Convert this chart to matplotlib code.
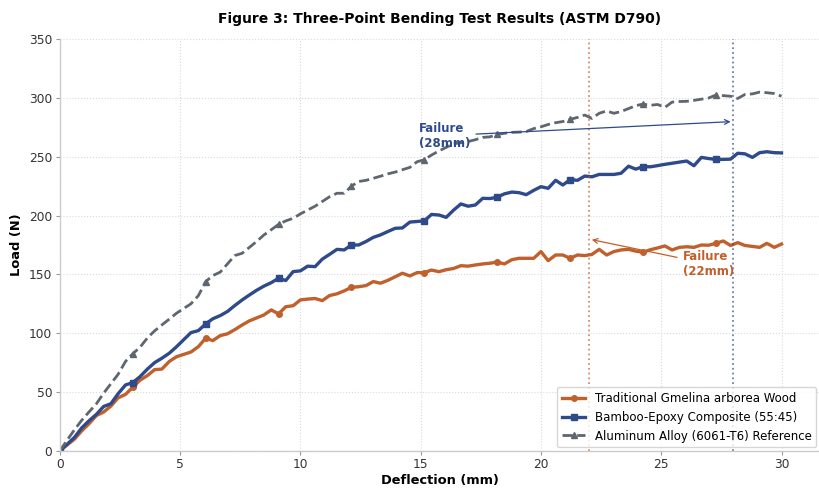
import matplotlib
matplotlib.use("Agg")
import matplotlib.pyplot as plt

deflection = [0.00, 0.30, 0.61, 0.91, 1.21, 1.52, 1.82, 2.12, 2.42, 2.73,
              3.03, 3.33, 3.64, 3.94, 4.24, 4.55, 4.85, 5.15, 5.45, 5.76,
              6.06, 6.36, 6.67, 6.97, 7.27, 7.58, 7.88, 8.18, 8.48, 8.79,
              9.09, 9.39, 9.70, 10.00, 10.30, 10.61, 10.91, 11.21, 11.52, 11.82,
              12.12, 12.42, 12.73, 13.03, 13.33, 13.64, 13.94, 14.24, 14.55, 14.85,
              15.15, 15.45, 15.76, 16.06, 16.36, 16.67, 16.97, 17.27, 17.58, 17.88,
              18.18, 18.48, 18.79, 19.09, 19.39, 19.70, 20.00, 20.30, 20.61, 20.91,
              21.21, 21.52, 21.82, 22.12, 22.42, 22.73, 23.03, 23.33, 23.64, 23.94,
              24.24, 24.55, 24.85, 25.15, 25.45, 25.76, 26.06, 26.36, 26.67, 26.97,
              27.27, 27.58, 27.88, 28.18, 28.48, 28.79, 29.09, 29.39, 29.70, 30.00]

gmelina = [0, 5, 10, 17, 23, 30, 33, 38, 45, 48,
           54, 60, 64, 69, 69.5, 76, 80, 82, 84, 88.6,
           95.7, 93.7, 98, 99.5, 103, 107, 110.5, 113, 115.5, 119.8,
           116.4, 122.5, 123.4, 128.3, 129, 129.5, 127.7, 132, 133.5, 136,
           139, 139.5, 140.5, 143.9, 142.5, 145, 148, 151, 148.7, 151.5,
           151.5, 153.7, 152.3, 154, 155, 157.4, 157, 158, 158.9, 159.5,
           160.5, 158.9, 162.5, 163.7, 163.7, 163.7, 169.4, 161.7, 166.5, 166.5,
           163.7, 166.5, 166, 167, 171.3, 166.5, 169.4, 170.8, 171.3, 169.8,
           168.8, 171, 172.5, 174.2, 170.8, 173, 173.5, 173, 175, 174.8,
           176.4, 178.4, 174.6, 177, 174.6, 173.8, 173, 176.4, 173, 175.8]

bamboo = [0, 5.5, 11.5, 19.5, 25.5, 31, 37.7, 40, 48.5, 56,
          58, 63, 69.5, 75, 78.7, 83, 88.5, 94.5, 100.5, 102.2,
          107.9, 112.3, 115, 118.5, 123.5, 128.3, 132.5, 136.5, 140, 143,
          146.7, 144.8, 152.4, 153, 157, 156.6, 163, 167, 171.3, 170.8,
          175, 175, 178, 181.5, 183.6, 186.5, 189.2, 189.5, 194.5, 195,
          195.5, 201, 200.5, 198.5, 204.5, 209.9, 208, 209, 214.7, 214.5,
          215.6, 218.5, 220, 219.5, 217.8, 221.5, 224.6, 223.2, 230, 226,
          230.6, 230, 233.6, 233, 235, 235, 235, 236, 242, 239.5,
          241.6, 241.5, 242.5, 243.6, 244.5, 245.5, 246.4, 242.4, 249.5, 248.5,
          247.8, 247.8, 248, 253, 252.5, 249.5, 253.5, 254.3, 253.5, 253.3]

aluminum = [0, 9, 18, 26, 33, 40, 49, 57, 65, 76,
            82.5, 88, 96, 102, 107, 112, 117, 121, 125, 132,
            143.9, 149, 152, 159, 166, 168, 173, 178, 183.5, 188,
            192.5, 195.5, 197.7, 201.5, 204.7, 208, 212, 216, 219, 219,
            225, 229, 230, 231.7, 233.5, 235.5, 237, 239, 241, 245.8,
            247.5, 251.5, 255, 258, 261, 262, 263, 264.5, 266.5, 267,
            269, 270, 270.8, 271, 271.5, 274, 275.5, 277.5, 279, 280,
            281.8, 283.5, 285.5, 282.6, 287, 289, 287, 288.5, 291, 293.5,
            294.8, 293.8, 294.5, 292, 296.5, 297, 297.2, 298, 299, 300,
            302.5, 302, 301.5, 299.6, 303, 303.5, 305, 304.5, 303.8, 301.5]

labels = ["Traditional Gmelina arborea Wood",
          "Bamboo-Epoxy Composite (55:45)",
          "Aluminum Alloy (6061-T6) Reference"]
failure_x = [22, 28]
failure_y = [180, 280]
failure_text = ["Failure\n(22mm)", "Failure\n(28mm)"]

c_orange = "#C0602D"
c_blue = "#2E4A8A"
c_gray = "#5E6670"

fig = plt.figure(figsize=(8.2, 4.9), dpi=100)
ax = fig.add_axes([0.073, 0.080, 0.927, 0.840])

ax.plot(deflection, gmelina, color=c_orange, lw=2.4, marker="o", ms=4,
        markevery=10, label=labels[0])
ax.plot(deflection, bamboo, color=c_blue, lw=2.4, marker="s", ms=4,
        markevery=10, label=labels[1])
ax.plot(deflection, aluminum, color=c_gray, lw=2.0, ls="--", marker="^", ms=4,
        markevery=10, label=labels[2])

ax.axvline(failure_x[0], color=c_orange, ls=":", lw=1.3, alpha=0.7)
ax.axvline(failure_x[1], color=c_blue, ls=":", lw=1.3, alpha=0.7)

ax.annotate(failure_text[1], xy=(failure_x[1], failure_y[1]), xytext=(16.0, 268),
            ha="center", va="center", multialignment="left",
            fontsize=8.5, fontweight="bold", color=c_blue,
            arrowprops=dict(arrowstyle="->", color=c_blue, lw=0.9))
ax.annotate(failure_text[0], xy=(failure_x[0], failure_y[0]), xytext=(26.95, 159),
            ha="center", va="center", multialignment="left",
            fontsize=8.5, fontweight="bold", color=c_orange,
            arrowprops=dict(arrowstyle="->", color=c_orange, lw=0.9))

ax.set_xlim(0, 31.6)
ax.set_ylim(0, 350)
ax.set_xticks([0, 5, 10, 15, 20, 25, 30])
ax.set_yticks(range(0, 351, 50))
ax.grid(True, ls=":", color="#d0d0d0", lw=0.8, alpha=0.8)
ax.set_axisbelow(True)
for s in ["top", "right"]:
    ax.spines[s].set_visible(False)
for s in ["left", "bottom"]:
    ax.spines[s].set_color("#cccccc")
    ax.spines[s].set_linewidth(1.0)
ax.tick_params(colors="#333333", labelsize=8.8, length=3, color="#999999", pad=2.5)

ax.set_xlabel("Deflection (mm)", fontsize=9.4, fontweight="bold", labelpad=2)
ax.set_ylabel("Load (N)", fontsize=9.4, fontweight="bold", labelpad=4)
ax.set_title("Figure 3: Three-Point Bending Test Results (ASTM D790)",
             fontsize=10, fontweight="bold", pad=12)

leg = ax.legend(loc="lower right", fontsize=8.5, frameon=True,
                borderaxespad=0.3, handlelength=2.0)
leg.get_frame().set_edgecolor("#cccccc")

fig.savefig("out.png", dpi=100)
